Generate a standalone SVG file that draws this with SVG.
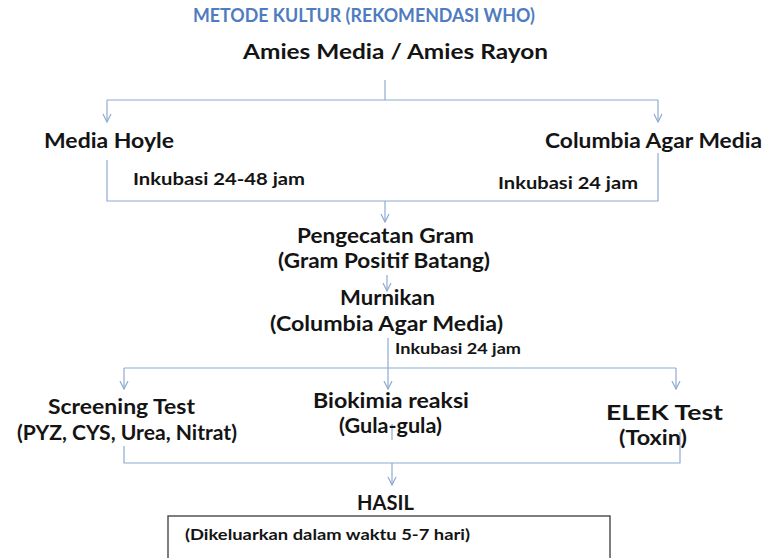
<svg xmlns="http://www.w3.org/2000/svg" width="765" height="558" viewBox="0 0 765 558">
  <defs>
    <marker id="arrow" viewBox="0 0 10 10" refX="9" refY="5" markerWidth="10" markerHeight="10" markerUnits="userSpaceOnUse" orient="auto">
      <path d="M1,1 L9,5 L1,9" fill="none" stroke="#8eaad0" stroke-width="1.2"/>
    </marker>
  </defs>
  <style>
    text { font-family: Lato, "Open Sans", "Liberation Sans", sans-serif; font-weight: bold; fill: #141414; }
    .title { fill: #4f7cc0; font-size: 19px; }
    .main { font-size: 21px; }
    .sub { font-size: 17px; }
    .small { font-size: 15px; }
    .conn line, .conn polyline { stroke: #8eaad0; stroke-width: 1.2; fill: none; }
    .box { fill: #ffffff; stroke: #3a3a3a; stroke-width: 1.3; }
  </style>
  <rect width="765" height="558" fill="#ffffff"/>

  <!-- connectors -->
  <g id="connectors" class="conn">
    <line x1="385" y1="80" x2="385" y2="100"/>
    <line x1="107" y1="100" x2="658" y2="100"/>
    <line x1="107" y1="100" x2="107" y2="122" marker-end="url(#arrow)"/>
    <line x1="658" y1="100" x2="658" y2="122" marker-end="url(#arrow)"/>
    <polyline points="107,160 107,201 658,201 658,153"/>
    <line x1="385" y1="201" x2="385" y2="222" marker-end="url(#arrow)"/>
    <line x1="387" y1="275" x2="387" y2="291" marker-end="url(#arrow)"/>
    <line x1="388" y1="338" x2="388" y2="368"/>
    <line x1="124" y1="368" x2="676" y2="368"/>
    <line x1="124" y1="368" x2="124" y2="389" marker-end="url(#arrow)"/>
    <line x1="388" y1="368" x2="388" y2="389" marker-end="url(#arrow)"/>
    <line x1="676" y1="368" x2="676" y2="389" marker-end="url(#arrow)"/>
    <line x1="392" y1="424" x2="392" y2="440"/>
    <polyline points="124,446 124,463 680,463 680,432"/>
    <line x1="392" y1="463" x2="392" y2="485" marker-end="url(#arrow)"/>
  </g>

  <g id="title">
    <text class="title" x="193" y="22" textLength="342" lengthAdjust="spacingAndGlyphs">METODE KULTUR (REKOMENDASI WHO)</text>
  </g>
  <g id="amies">
    <text class="main" x="243" y="59" textLength="305" lengthAdjust="spacingAndGlyphs">Amies Media / Amies Rayon</text>
  </g>
  <g id="media-hoyle">
    <text class="main" x="44" y="148" textLength="130" lengthAdjust="spacingAndGlyphs">Media Hoyle</text>
    <text class="sub" x="133" y="185" textLength="172" lengthAdjust="spacingAndGlyphs">Inkubasi 24-48 jam</text>
  </g>
  <g id="columbia-agar">
    <text class="main" x="545" y="148" textLength="217" lengthAdjust="spacingAndGlyphs">Columbia Agar Media</text>
    <text class="sub" x="498" y="189" textLength="140" lengthAdjust="spacingAndGlyphs">Inkubasi 24 jam</text>
  </g>
  <g id="pengecatan">
    <text class="main" x="297" y="243" textLength="177" lengthAdjust="spacingAndGlyphs">Pengecatan Gram</text>
    <text class="main" x="278" y="268" textLength="212" lengthAdjust="spacingAndGlyphs">(Gram Positif Batang)</text>
  </g>
  <g id="murnikan">
    <text class="main" x="340" y="305" textLength="95" lengthAdjust="spacingAndGlyphs">Murnikan</text>
    <text class="main" x="270" y="331" textLength="233" lengthAdjust="spacingAndGlyphs">(Columbia Agar Media)</text>
    <text class="small" x="395" y="354" textLength="126" lengthAdjust="spacingAndGlyphs">Inkubasi 24 jam</text>
  </g>
  <g id="screening">
    <text class="main" x="48" y="414" textLength="147" lengthAdjust="spacingAndGlyphs">Screening Test</text>
    <text class="main" x="17" y="440" textLength="220" lengthAdjust="spacingAndGlyphs">(PYZ, CYS, Urea, Nitrat)</text>
  </g>
  <g id="biokimia">
    <text class="main" x="313" y="408" textLength="156" lengthAdjust="spacingAndGlyphs">Biokimia reaksi</text>
    <text class="main" x="339" y="433" textLength="103" lengthAdjust="spacingAndGlyphs">(Gula-gula)</text>
  </g>
  <g id="elek">
    <text class="main" x="606" y="420" textLength="117" lengthAdjust="spacingAndGlyphs">ELEK Test</text>
    <text class="main" x="619" y="445" textLength="68" lengthAdjust="spacingAndGlyphs">(Toxin)</text>
  </g>
  <g id="hasil">
    <text class="main" x="357" y="510" textLength="57" lengthAdjust="spacingAndGlyphs">HASIL</text>
  </g>
  <g id="result-note">
    <rect class="box" x="168" y="516" width="442" height="50"/>
    <text class="small" x="185" y="540" textLength="285" lengthAdjust="spacingAndGlyphs">(Dikeluarkan dalam waktu 5-7 hari)</text>
  </g>
</svg>
